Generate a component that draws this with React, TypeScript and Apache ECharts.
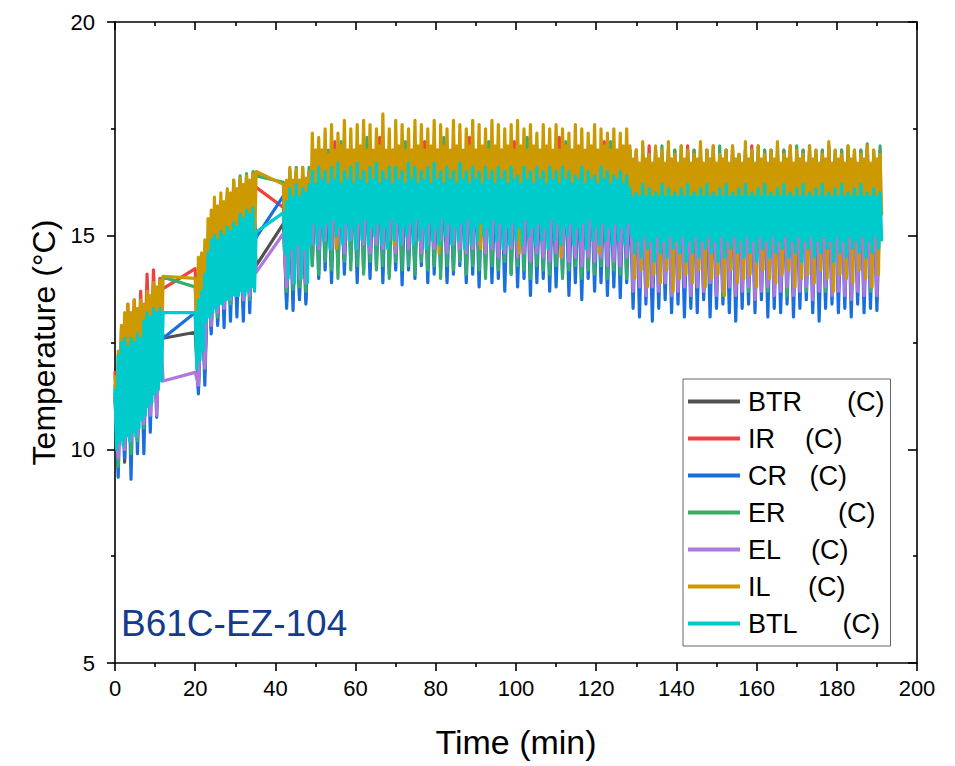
import React, { useEffect, useRef } from "react";
import * as echarts from "echarts";

// Each run of readings starts at these times (min); sensors are logged every STEP min
const SEG_STARTS = [0, 20, 42];
const SERIES_STEPS = [0.8, 0.8, 0.8, 0.8, 0.8, 0.4, 0.4];

const X_TICKS = [0, 200, 20];
const Y_TICKS = [5, 20, 5];

const SERIES_NAMES = ["BTR", "IR", "CR", "ER", "EL", "IL", "BTL"];
const NB = "\u00a0";
const LEGEND_LABELS = [
  "BTR" + NB.repeat(6) + "(C)",
  "IR" + NB.repeat(4) + "(C)",
  "CR" + NB.repeat(3) + "(C)",
  "ER" + NB.repeat(7) + "(C)",
  "EL" + NB.repeat(4) + "(C)",
  "IL" + NB.repeat(5) + "(C)",
  "BTL" + NB.repeat(6) + "(C)",
];
const COLORS = ["#515151", "#F14040", "#1A6FDF", "#37AD6B", "#B177DE", "#CC9900", "#00CBCC"];

// ---------------- BTR (0.8 min) ----------------
const BTR_SEG1 = [11.3, 9.9, 12.2, 9.7, 12.6, 10.1, 12.7, 10.2, 12.8, 10.6, 13.0, 10.9, 13.1, 11.0, 13.1, 12.6];
const BTR_SEG2 = [12.74, 11.4, 13.9, 11.8, 14.3, 12.8, 14.9, 13.0, 15.1, 13.2, 15.3, 13.4, 15.4, 13.4, 15.5, 13.3, 15.6, 13.5, 15.6, 14.3];
const BTR_SEG3 = [
  15.28, 13.45, 15.9, 13.5, 16.0, 13.6, 15.9, 13.5, 16.0,
  14.7, 16.8, 14.5, 16.7, 14.8, 16.8, 14.4, 16.9, 14.7, 16.7,
  14.6, 16.8, 14.8, 16.7, 14.5, 16.9, 14.7, 16.8, 14.6, 16.7,
  14.8, 16.9, 14.5, 16.8, 14.7, 16.7, 14.6, 16.8, 14.8, 16.9,
  14.6, 16.7, 14.7, 16.8, 14.5, 16.9, 14.8, 16.7, 14.6, 16.8,
  14.7, 16.8, 14.5, 16.7, 14.8, 16.8, 14.6, 16.9, 14.7, 16.7,
  14.6, 16.8, 14.8, 16.7, 14.5, 16.8, 14.7, 16.9, 14.6, 16.7,
  14.7, 16.8, 14.6, 16.7, 14.8, 16.8, 14.5, 16.7, 14.7, 16.8,
  14.6, 16.7, 14.8, 16.8, 14.5, 16.7, 14.7, 16.8, 14.6, 16.7,
  14.7, 16.8, 14.5, 16.7, 14.6, 16.8, 14.7, 16.7, 14.5, 16.8,
  14.6, 16.7, 14.7, 16.8, 14.5, 16.7, 14.6, 16.8, 14.7,
  16.4, 14.1, 16.3, 14.0, 16.4, 14.2, 16.5, 13.9, 16.4, 14.1,
  16.3, 14.2, 16.4, 14.0, 16.4, 14.1, 16.3, 14.2, 16.5, 13.9,
  16.4, 14.1, 16.3, 14.0, 16.4, 14.2, 16.4, 14.1, 16.3, 14.0,
  16.5, 14.2, 16.4, 13.9, 16.3, 14.1, 16.4, 14.0, 16.4, 14.2,
  16.3, 14.1, 16.4, 14.0, 16.5, 14.2, 16.4, 14.1, 16.3, 13.9,
  16.4, 14.2, 16.4, 14.0, 16.3, 14.1, 16.5, 14.2, 16.4, 14.0,
  16.3, 14.1, 16.4, 13.9, 16.4, 14.2, 16.3, 14.0, 16.4, 14.1,
  16.5, 14.0, 16.4, 14.2, 16.3, 14.1, 16.4, 14.0, 16.4,
];

// ---------------- IR (0.8 min) ----------------
const IR_SEG1 = [11.8, 10.4, 12.8, 10.7, 13.4, 11.0, 13.5, 11.1, 13.7, 11.4, 14.1, 11.7, 14.2, 12.1, 14.0, 13.76];
const IR_SEG2 = [14.23, 12.1, 14.4, 12.6, 14.8, 13.1, 15.5, 13.3, 15.8, 13.6, 15.9, 13.8, 16.1, 14.0, 16.3, 14.1, 16.35, 14.2, 16.3, 16.13];
const IR_SEG3 = [
  15.66, 13.9, 16.4, 14.0, 16.5, 14.1, 16.4, 14.0, 16.5,
  15.2, 16.9, 15.0, 17.0, 15.1, 16.9, 15.2, 17.2, 15.0, 16.9,
  15.1, 17.0, 15.2, 16.9, 15.0, 16.8, 15.1, 17.0, 15.2, 16.9,
  15.0, 17.3, 15.1, 16.9, 15.2, 17.0, 15.0, 16.9, 15.1, 16.8,
  15.2, 17.0, 15.0, 16.9, 15.1, 17.2, 15.2, 16.9, 15.0, 17.0,
  15.1, 16.8, 15.2, 16.9, 15.0, 17.0, 15.1, 16.9, 15.2, 17.3,
  15.0, 16.9, 15.1, 17.0, 15.2, 16.8, 15.0, 16.9, 15.1, 17.0,
  15.2, 16.9, 15.0, 17.2, 15.1, 16.9, 15.2, 17.0, 15.0, 16.8,
  15.1, 16.9, 15.2, 17.0, 15.0, 16.9, 15.1, 17.3, 15.2, 16.9,
  15.0, 17.0, 15.1, 16.8, 15.2, 16.9, 15.0, 17.0, 15.1, 16.9,
  15.2, 17.2, 15.0, 16.9, 15.1, 17.0, 15.2, 16.8, 15.0,
  17.0, 14.7, 17.0, 14.6, 16.9, 14.8, 17.1, 14.7, 17.0, 14.6,
  16.9, 14.8, 17.0, 14.7, 17.0, 14.6, 16.9, 14.8, 17.1, 14.7,
  17.0, 14.6, 16.9, 14.8, 17.0, 14.7, 17.1, 14.6, 16.9, 14.8,
  17.0, 14.7, 17.0, 14.6, 16.9, 14.8, 17.0, 14.7, 17.1, 14.6,
  16.9, 14.8, 17.0, 14.7, 17.0, 14.6, 16.9, 14.8, 17.0, 14.7,
  17.1, 14.6, 16.9, 14.8, 17.0, 14.7, 17.0, 14.6, 16.9, 14.8,
  17.0, 14.7, 17.1, 14.6, 16.9, 14.8, 17.0, 14.7, 17.0, 14.6,
  16.9, 14.8, 17.0, 14.7, 17.1, 14.6, 16.9, 14.8, 17.0,
];

// ---------------- CR (0.8 min) ----------------
const CR_SEG1 = [11.2, 9.35, 12.3, 9.8, 12.6, 9.3, 12.7, 9.9, 12.8, 9.9, 13.0, 10.4, 13.1, 10.75, 13.2, 12.6];
const CR_SEG2 = [13.2, 11.3, 14.0, 11.5, 14.4, 12.7, 14.9, 12.9, 15.2, 12.85, 15.4, 13.0, 15.5, 13.1, 15.6, 13.0, 15.7, 13.2, 15.8, 14.96];
const CR_SEG3 = [
  15.93, 13.3, 16.0, 13.25, 16.1, 13.5, 16.0, 13.4, 16.1,
  14.3, 16.2, 14.0, 16.3, 14.2, 16.1, 13.9, 16.3, 14.3, 16.2,
  14.1, 16.3, 14.4, 16.2, 13.9, 16.4, 14.2, 16.2, 14.0, 16.3,
  14.3, 16.2, 13.9, 16.4, 14.1, 16.3, 14.2, 16.2, 13.85, 16.3,
  14.2, 16.1, 14.0, 16.3, 14.3, 16.2, 13.9, 16.4, 14.1, 16.2,
  14.2, 16.3, 13.9, 16.2, 14.1, 16.3, 14.3, 16.1, 13.9, 16.2,
  14.1, 16.3, 13.8, 16.2, 14.2, 16.3, 13.9, 16.1, 14.0, 16.2,
  13.7, 16.3, 14.1, 16.2, 13.8, 16.1, 14.0, 16.3, 13.6, 16.2,
  13.9, 16.1, 14.0, 16.3, 13.7, 16.2, 13.8, 16.1, 14.1, 16.3,
  13.6, 16.2, 13.9, 16.1, 13.5, 16.3, 14.0, 16.2, 13.7, 16.1,
  13.9, 16.2, 13.6, 16.1, 13.8, 16.3, 13.55, 16.2, 13.9,
  16.0, 13.3, 15.9, 13.1, 16.0, 13.4, 15.9, 13.0, 16.0, 13.3,
  15.9, 13.5, 16.0, 13.2, 15.9, 13.4, 16.0, 13.1, 15.9, 13.3,
  16.0, 13.2, 15.9, 13.5, 16.0, 13.1, 15.9, 13.3, 16.0, 13.4,
  15.9, 13.2, 16.0, 13.0, 15.9, 13.3, 16.0, 13.4, 15.9, 13.2,
  16.0, 13.5, 15.9, 13.1, 16.0, 13.3, 15.9, 13.2, 16.0, 13.4,
  15.9, 13.1, 16.0, 13.3, 15.9, 13.5, 16.0, 13.2, 15.9, 13.0,
  16.0, 13.3, 15.9, 13.4, 16.0, 13.2, 15.9, 13.3, 16.0, 13.1,
  15.9, 13.4, 16.0, 13.2, 15.9, 13.3, 16.0, 13.25, 15.9,
];

// ---------------- ER (0.8 min) ----------------
const ER_SEG1 = [11.5, 9.6, 12.5, 10.0, 13.2, 9.9, 13.3, 10.2, 13.4, 10.5, 13.6, 10.9, 13.8, 11.1, 13.9, 14.03];
const ER_SEG2 = [13.8, 11.6, 14.5, 11.9, 14.9, 12.9, 15.6, 13.1, 15.8, 13.3, 16.0, 13.4, 16.3, 13.6, 16.4, 13.5, 16.45, 13.5, 16.5, 16.4];
const ER_SEG3 = [
  16.25, 13.7, 16.55, 13.75, 16.6, 13.8, 16.6, 13.7, 16.6,
  14.3, 17.0, 14.1, 16.9, 14.4, 17.0, 14.2, 16.8, 14.0, 17.2,
  14.4, 16.9, 14.2, 17.0, 14.3, 16.9, 14.1, 17.3, 14.4, 16.9,
  14.2, 17.0, 14.3, 16.8, 14.0, 16.9, 14.4, 17.0, 14.2, 17.2,
  14.3, 16.9, 14.1, 17.0, 14.4, 16.8, 14.2, 16.9, 14.3, 17.0,
  14.0, 17.3, 14.3, 16.9, 14.2, 17.0, 14.4, 16.8, 14.1, 16.9,
  14.3, 17.0, 14.2, 16.9, 14.0, 17.2, 14.3, 16.9, 14.2, 17.0,
  14.4, 16.8, 14.1, 16.9, 14.3, 17.0, 14.2, 17.3, 14.0, 16.9,
  14.3, 17.0, 14.2, 16.9, 14.1, 16.8, 14.3, 17.0, 14.0, 17.2,
  14.2, 16.9, 14.3, 17.0, 14.0, 16.9, 14.2, 16.8, 14.1, 17.0,
  14.3, 16.9, 14.0, 17.2, 14.2, 16.9, 14.1, 17.0, 14.0,
  17.0, 13.8, 17.0, 13.9, 17.1, 13.7, 16.9, 13.9, 17.0, 13.8,
  17.1, 13.9, 17.0, 13.6, 17.0, 13.8, 17.1, 13.9, 17.0, 13.7,
  17.0, 13.9, 17.1, 13.7, 17.0, 13.9, 17.0, 13.8, 17.1, 13.6,
  17.0, 13.9, 17.1, 13.8, 16.9, 13.9, 17.0, 13.7, 17.0, 13.8,
  17.1, 13.9, 17.0, 13.7, 17.0, 13.8, 17.1, 13.9, 17.0, 13.6,
  17.0, 13.8, 17.1, 13.9, 17.0, 13.7, 17.1, 13.8, 17.0, 13.9,
  17.0, 13.7, 17.1, 13.8, 17.0, 13.9, 17.0, 13.8, 17.1, 13.7,
  17.0, 13.9, 17.0, 13.8, 17.15, 13.7, 17.0, 13.8, 17.1,
];

// ---------------- EL (0.8 min) ----------------
const EL_SEG1 = [11.2, 9.8, 12.2, 10.0, 12.6, 10.2, 12.7, 10.3, 12.8, 10.6, 13.0, 10.8, 13.1, 10.8, 13.0, 11.6];
const EL_SEG2 = [11.8, 11.5, 13.8, 11.9, 14.2, 12.9, 14.8, 13.2, 15.1, 13.3, 15.3, 13.5, 15.4, 13.6, 15.5, 13.5, 15.6, 13.6, 15.6, 14.14];
const EL_SEG3 = [
  15.05, 13.8, 15.9, 13.9, 16.0, 14.0, 15.9, 13.9, 16.0,
  14.8, 16.7, 14.7, 16.8, 14.9, 16.6, 14.7, 16.8, 14.8, 16.7,
  14.6, 16.8, 14.9, 16.7, 14.7, 16.9, 14.8, 16.7, 14.6, 16.8,
  14.8, 16.8, 14.7, 16.9, 14.9, 16.7, 14.6, 16.8, 14.8, 16.7,
  14.7, 16.8, 14.9, 16.7, 14.6, 16.8, 14.8, 16.8, 14.7, 16.7,
  14.9, 16.8, 14.6, 16.7, 14.8, 16.8, 14.7, 16.7, 14.6, 16.8,
  14.7, 16.7, 14.8, 16.8, 14.6, 16.7, 14.7, 16.8, 14.5, 16.7,
  14.6, 16.8, 14.7, 16.7, 14.5, 16.8, 14.6, 16.7, 14.4, 16.8,
  14.6, 16.7, 14.5, 16.8, 14.4, 16.7, 14.6, 16.6, 14.5, 16.7,
  14.4, 16.8, 14.5, 16.7, 14.3, 16.6, 14.5, 16.7, 14.4, 16.6,
  14.5, 16.7, 14.3, 16.6, 14.4, 16.7, 14.3, 16.6, 14.5,
  16.3, 13.7, 16.2, 13.8, 16.3, 13.6, 16.4, 13.8, 16.3, 13.7,
  16.2, 13.9, 16.3, 13.6, 16.3, 13.7, 16.2, 13.8, 16.4, 13.6,
  16.3, 13.8, 16.2, 13.7, 16.3, 13.9, 16.3, 13.6, 16.2, 13.7,
  16.4, 13.8, 16.3, 13.6, 16.2, 13.7, 16.3, 13.8, 16.3, 13.5,
  16.2, 13.7, 16.3, 13.8, 16.4, 13.6, 16.3, 13.7, 16.2, 13.8,
  16.3, 13.6, 16.3, 13.7, 16.2, 13.8, 16.4, 13.5, 16.3, 13.7,
  16.2, 13.8, 16.3, 13.6, 16.3, 13.7, 16.2, 13.6, 16.3, 13.5,
  16.3, 13.7, 16.4, 13.6, 16.2, 13.8, 16.3, 13.6, 16.3,
];

// ---------------- IL (0.4 min) ----------------
const IL_SEG1 = [
  11.7, 10.6, 12.3, 10.8, 12.9, 11.0, 13.2, 10.9, 13.4, 11.2,
  13.2, 11.0, 13.5, 11.3, 13.3, 11.2, 13.5, 11.4, 13.4, 11.5,
  13.7, 11.7, 13.6, 11.8, 13.9, 12.0, 13.8, 12.1, 13.95, 12.3,
  14.05,
];
const IL_SEG2 = [
  14.0, 12.3, 14.5, 12.6, 14.6, 12.8, 14.9, 13.2, 15.4, 13.3,
  15.6, 13.5, 15.9, 13.6, 15.7, 13.8, 16.0, 13.9, 15.8, 14.0,
  16.1, 14.1, 16.0, 14.2, 16.3, 14.2, 16.1, 14.3, 16.35, 14.4,
  16.2, 14.4, 16.4, 14.5, 16.3, 14.5, 16.45, 14.6, 16.5,
];
const IL_SEG3 = [
  16.2, 15.0, 16.3, 14.1, 16.6, 15.0, 16.3, 14.2, 16.55, 15.1,
  16.3, 14.0, 16.6, 15.0, 16.35, 14.2, 16.5, 15.1,
  17.4, 15.8, 17.0, 15.9, 17.3, 15.7, 17.0, 15.9, 17.5, 15.8,
  16.9, 15.9, 17.6, 15.7, 17.0, 14.7, 17.4, 15.8, 17.1, 15.9,
  17.7, 15.8, 17.0, 15.7, 17.5, 15.9, 17.0, 15.8, 17.6, 15.7,
  17.1, 15.9, 17.7, 15.8, 17.0, 15.9, 17.6, 15.7, 17.0, 15.8,
  17.5, 15.9, 17.1, 15.8, 17.85, 15.7, 17.0, 15.9, 17.5, 15.8,
  17.0, 14.8, 17.7, 15.9, 17.1, 15.8, 17.6, 15.7, 17.0, 15.9,
  17.5, 15.8, 17.0, 15.9, 17.7, 15.7, 17.1, 15.8, 17.6, 15.9,
  17.0, 15.8, 17.5, 15.7, 17.1, 15.9, 17.7, 15.8, 17.0, 14.6,
  17.6, 15.9, 17.1, 15.8, 17.5, 15.7, 17.0, 15.9, 17.7, 15.8,
  17.1, 15.9, 17.6, 15.7, 17.0, 15.8, 17.5, 15.9, 17.1, 15.8,
  17.7, 15.7, 17.0, 15.9, 17.6, 14.7, 17.1, 15.8, 17.5, 15.9,
  17.0, 15.8, 17.7, 15.7, 17.1, 15.9, 17.6, 15.8, 17.0, 15.9,
  17.5, 15.7, 17.1, 15.8, 17.6, 15.9, 17.0, 15.8, 17.7, 14.6,
  17.1, 15.9, 17.5, 15.8, 17.0, 15.7, 17.6, 15.9, 17.1, 15.8,
  17.4, 15.9, 17.0, 15.8, 17.6, 15.7, 17.1, 15.9, 17.5, 15.8,
  17.0, 15.9, 17.6, 15.8, 17.0, 14.5, 17.5, 15.9, 17.1, 15.8,
  17.4, 15.7, 17.0, 15.9, 17.6, 15.8, 17.1, 15.9, 17.5, 15.7,
  17.0, 15.8, 17.4, 15.9, 17.1, 15.8, 17.6, 15.7, 17.0, 14.6,
  17.5, 15.9, 17.1, 15.8, 17.4, 15.9, 17.0, 15.8, 17.5, 15.7,
  17.0, 15.9, 17.4, 15.8, 17.1, 15.9, 17.5, 15.8,
  17.1, 15.4, 16.8, 14.0, 17.0, 15.3, 16.7, 14.2, 17.2, 15.4,
  16.8, 13.8, 16.9, 15.5, 16.7, 14.1, 17.1, 15.3, 16.8, 13.9,
  17.0, 15.4, 16.7, 14.2, 17.2, 15.5, 16.8, 13.7, 16.9, 15.3,
  16.7, 14.0, 17.1, 15.4, 16.8, 14.1, 17.0, 15.5, 16.7, 13.9,
  16.9, 15.3, 16.8, 14.2, 17.2, 15.4, 16.7, 13.8, 17.0, 15.5,
  16.8, 14.0, 17.1, 15.3, 16.7, 14.1, 16.9, 15.4, 16.8, 13.6,
  17.0, 15.5, 16.7, 14.2, 17.1, 15.3, 16.8, 13.9, 16.9, 15.4,
  16.7, 14.0, 17.2, 15.5, 16.8, 14.1, 17.0, 15.3, 16.7, 13.8,
  17.1, 15.4, 16.8, 14.2, 16.9, 15.5, 16.7, 14.0, 17.0, 15.3,
  16.8, 13.9, 17.2, 15.4, 16.7, 14.1, 16.9, 15.5, 16.8, 14.2,
  17.1, 15.3, 16.7, 13.8, 17.0, 15.4, 16.8, 14.0, 16.9, 15.5,
  16.7, 14.1, 17.1, 15.3, 16.8, 13.9, 17.0, 15.4, 16.7, 14.2,
  16.9, 15.5, 16.8, 14.0, 17.2, 15.3, 16.7, 13.7, 17.0, 15.4,
  16.8, 14.1, 16.9, 15.5, 16.7, 14.0, 17.1, 15.3, 16.8, 13.9,
  17.0, 15.4, 16.7, 14.2, 16.9, 15.5, 16.8, 14.0, 17.1, 15.3,
  16.7, 13.8, 17.0, 15.4, 16.8, 14.1, 16.9, 15.5,
];

// ---------------- BTL (0.4 min) ----------------
const BTL_SEG1 = [
  11.4, 10.0, 12.2, 10.2, 12.5, 10.1, 12.6, 10.3, 12.4, 10.2,
  12.6, 10.4, 12.5, 10.3, 12.7, 10.5, 12.6, 10.7, 13.0, 10.8,
  13.2, 11.0, 13.1, 11.1, 13.3, 11.3, 13.2, 11.4, 13.3, 11.6,
  13.2,
];
const BTL_SEG2 = [
  13.2, 11.9, 13.5, 12.1, 13.7, 12.3, 14.1, 13.0, 14.6, 13.1,
  14.9, 13.2, 15.0, 13.3, 14.9, 13.4, 15.1, 13.4, 15.0, 13.5,
  15.2, 13.5, 15.1, 13.6, 15.3, 13.6, 15.2, 13.6, 15.5, 13.7,
  15.4, 13.6, 15.6, 13.7, 15.5, 13.8, 15.65, 13.7, 15.08,
];
const BTL_SEG3 = [
  15.54, 14.6, 15.8, 14.0, 16.1, 14.7, 15.9, 13.9, 16.2, 14.8,
  15.9, 14.0, 16.1, 14.7, 16.0, 13.9, 16.2, 14.8,
  16.5, 15.3, 16.2, 14.8, 16.6, 15.2, 16.3, 14.9, 16.5, 15.3,
  16.2, 14.7, 16.6, 15.4, 16.3, 15.0, 16.7, 15.2, 16.2, 14.8,
  16.5, 15.3, 16.3, 14.9, 16.6, 15.2, 16.2, 14.7, 16.7, 15.3,
  16.3, 14.9, 16.5, 15.4, 16.2, 14.8, 16.6, 15.2, 16.3, 15.0,
  16.7, 15.3, 16.2, 14.8, 16.5, 15.2, 16.3, 14.7, 16.6, 15.4,
  16.2, 14.9, 16.6, 15.3, 16.3, 14.8, 16.5, 15.2, 16.2, 15.0,
  16.7, 15.3, 16.3, 14.8, 16.6, 15.4, 16.2, 14.9, 16.5, 15.2,
  16.3, 14.7, 16.6, 15.3, 16.2, 14.9, 16.7, 15.2, 16.3, 14.8,
  16.5, 15.4, 16.2, 15.0, 16.6, 15.3, 16.3, 14.8, 16.5, 15.2,
  16.2, 14.9, 16.7, 15.3, 16.3, 14.7, 16.5, 15.4, 16.2, 14.8,
  16.6, 15.2, 16.3, 14.9, 16.5, 15.3, 16.2, 15.0, 16.6, 15.2,
  16.3, 14.8, 16.5, 15.4, 16.2, 14.9, 16.6, 15.3, 16.3, 14.7,
  16.5, 15.2, 16.2, 14.8, 16.6, 15.3, 16.3, 14.9, 16.4, 15.2,
  16.2, 14.8, 16.6, 15.4, 16.3, 15.0, 16.5, 15.2, 16.2, 14.8,
  16.6, 15.3, 16.3, 14.9, 16.5, 15.2, 16.2, 14.7, 16.6, 15.4,
  16.3, 14.9, 16.5, 15.3, 16.2, 14.8, 16.6, 15.2, 16.3, 15.0,
  16.5, 15.3, 16.2, 14.8, 16.4, 15.2, 16.3, 14.9, 16.6, 15.3,
  16.2, 14.7, 16.5, 15.4, 16.3, 14.9, 16.4, 15.2, 16.2, 14.8,
  16.6, 15.3, 16.3, 14.9, 16.5, 15.2, 16.2, 14.8, 16.4, 15.3,
  16.3, 14.9, 16.5, 15.2, 16.2, 14.8, 16.4, 15.3,
  16.1, 15.0, 15.9, 14.6, 16.0, 14.9, 15.9, 14.5, 16.2, 15.0,
  15.9, 14.7, 16.1, 14.9, 15.9, 14.4, 16.0, 15.0, 15.9, 14.6,
  16.2, 14.9, 15.9, 14.5, 16.1, 15.0, 15.9, 14.7, 16.0, 14.9,
  15.9, 14.6, 16.1, 15.0, 15.9, 14.4, 16.2, 14.9, 15.9, 14.6,
  16.0, 15.0, 15.9, 14.5, 16.1, 14.9, 15.9, 14.7, 16.2, 15.0,
  15.9, 14.6, 16.0, 14.9, 15.9, 14.4, 16.1, 15.0, 15.9, 14.5,
  16.2, 14.9, 15.9, 14.7, 16.0, 15.0, 15.9, 14.6, 16.1, 14.9,
  15.9, 14.5, 16.2, 15.0, 15.9, 14.6, 16.0, 14.9, 15.9, 14.4,
  16.1, 15.0, 15.9, 14.7, 16.2, 14.9, 15.9, 14.5, 16.0, 15.0,
  15.9, 14.6, 16.1, 14.9, 15.9, 14.7, 16.2, 15.0, 15.9, 14.5,
  16.0, 14.9, 15.9, 14.6, 16.1, 15.0, 15.9, 14.4, 16.2, 14.9,
  15.9, 14.7, 16.0, 15.0, 15.9, 14.5, 16.1, 14.9, 15.9, 14.6,
  16.2, 15.0, 15.9, 14.7, 16.0, 14.9, 15.9, 14.4, 16.1, 15.0,
  15.9, 14.6, 16.2, 14.9, 15.9, 14.5, 16.0, 15.0, 15.9, 14.7,
  16.1, 14.9, 15.9, 14.6, 16.2, 15.0, 15.9, 14.5, 16.0, 14.9,
  15.9, 14.6, 16.1, 15.0, 15.9, 14.7, 16.0, 14.9,
];

const SERIES_SEGMENTS = [
  [BTR_SEG1, BTR_SEG2, BTR_SEG3],
  [IR_SEG1, IR_SEG2, IR_SEG3],
  [CR_SEG1, CR_SEG2, CR_SEG3],
  [ER_SEG1, ER_SEG2, ER_SEG3],
  [EL_SEG1, EL_SEG2, EL_SEG3],
  [IL_SEG1, IL_SEG2, IL_SEG3],
  [BTL_SEG1, BTL_SEG2, BTL_SEG3],
];

const SAMPLE_LABEL = "B61C-EZ-104";

function toPoints(segs: number[][], step: number): [number, number][] {
  const pts: [number, number][] = [];
  segs.forEach((seg, s) => {
    seg.forEach((v, i) => {
      const t = Math.round((SEG_STARTS[s] + i * step) * 100) / 100;
      pts.push([t, v]);
    });
  });
  return pts;
}

const FONT = "'Liberation Sans', Arial, sans-serif";
const NARROW = "'Liberation Sans Narrow', 'Arial Narrow', 'Liberation Sans', sans-serif";

export default function App() {
  const ref = useRef<HTMLDivElement>(null);
  useEffect(() => {
    if (!ref.current) return;
    const chart = echarts.init(ref.current, undefined, { renderer: "svg" });
    const axisLine = { show: true, onZero: false, lineStyle: { color: "#000", width: 1.6 } };
    const tickStyle = { color: "#000", width: 1.6 };
    const option: any = {
      animation: false,
      backgroundColor: "#fff",
      grid: { left: 115, right: 38, top: 22, bottom: 103 },
      xAxis: [
        {
          type: "value",
          min: X_TICKS[0],
          max: X_TICKS[1],
          interval: X_TICKS[2],
          position: "bottom",
          axisLine,
          axisTick: { show: true, inside: false, length: 8, lineStyle: tickStyle },
          minorTick: { show: true, splitNumber: 2, length: 4, lineStyle: tickStyle },
          axisLabel: { fontSize: 22, color: "#000", margin: 14, fontFamily: NARROW },
          splitLine: { show: false },
          name: "Time (min)",
          nameLocation: "middle",
          nameGap: 62,
          nameTextStyle: { fontSize: 34, color: "#000", fontFamily: FONT },
        },
        {
          type: "value",
          min: X_TICKS[0],
          max: X_TICKS[1],
          interval: X_TICKS[2],
          position: "top",
          axisLine,
          axisTick: { show: true, inside: true, length: 8, lineStyle: tickStyle },
          minorTick: { show: true, splitNumber: 2, length: 4, lineStyle: tickStyle },
          axisLabel: { show: false },
          splitLine: { show: false },
        },
      ],
      yAxis: [
        {
          type: "value",
          min: Y_TICKS[0],
          max: Y_TICKS[1],
          interval: Y_TICKS[2],
          position: "left",
          axisLine,
          axisTick: { show: true, inside: false, length: 8, lineStyle: tickStyle },
          minorTick: { show: true, splitNumber: 2, length: 4, lineStyle: tickStyle },
          axisLabel: { fontSize: 22, color: "#000", margin: 20, fontFamily: FONT },
          splitLine: { show: false },
          name: "Temperature (°C)",
          nameLocation: "middle",
          nameGap: 54,
          nameTextStyle: { fontSize: 32, color: "#000", fontFamily: FONT },
        },
        {
          type: "value",
          min: Y_TICKS[0],
          max: Y_TICKS[1],
          interval: Y_TICKS[2],
          position: "right",
          axisLine,
          axisTick: { show: true, inside: true, length: 9, lineStyle: tickStyle },
          minorTick: { show: true, splitNumber: 2, length: 4, lineStyle: tickStyle },
          axisLabel: { show: false },
          splitLine: { show: false },
        },
      ],
      legend: {
        orient: "vertical",
        left: 683,
        top: 379,
        icon: "rect",
        itemWidth: 52,
        itemHeight: 4,
        itemGap: 10,
        padding: [9, 6, 9, 5],
        backgroundColor: "#fff",
        borderColor: "#666",
        borderWidth: 1,
        borderRadius: 0,
        data: SERIES_NAMES.map((n) => ({ name: n })),
        formatter: (name: string) => LEGEND_LABELS[SERIES_NAMES.indexOf(name)],
        textStyle: { fontSize: 27, color: "#000", fontFamily: FONT, padding: [0, 0, 0, 3] },
      },
      graphic: [
        {
          type: "text",
          left: 121,
          top: 605,
          style: { text: SAMPLE_LABEL, fontSize: 37, fill: "#143C8C", fontFamily: FONT },
          z: 100,
        },
      ],
      series: SERIES_NAMES.map((name, i) => ({
        name,
        type: "line",
        data: toPoints(SERIES_SEGMENTS[i], SERIES_STEPS[i]),
        showSymbol: false,
        symbol: "none",
        lineStyle: { width: 3.2, color: COLORS[i], cap: "round", join: "round" },
        itemStyle: { color: COLORS[i] },
        emphasis: { disabled: true },
        xAxisIndex: 0,
        yAxisIndex: 0,
        z: 2 + i,
      })),
    };
    chart.setOption(option);
    return () => chart.dispose();
  }, []);
  return (
    <div
      ref={ref}
      style={{ position: "fixed", left: 0, top: 0, width: 955, height: 766, background: "#fff" }}
    />
  );
}
